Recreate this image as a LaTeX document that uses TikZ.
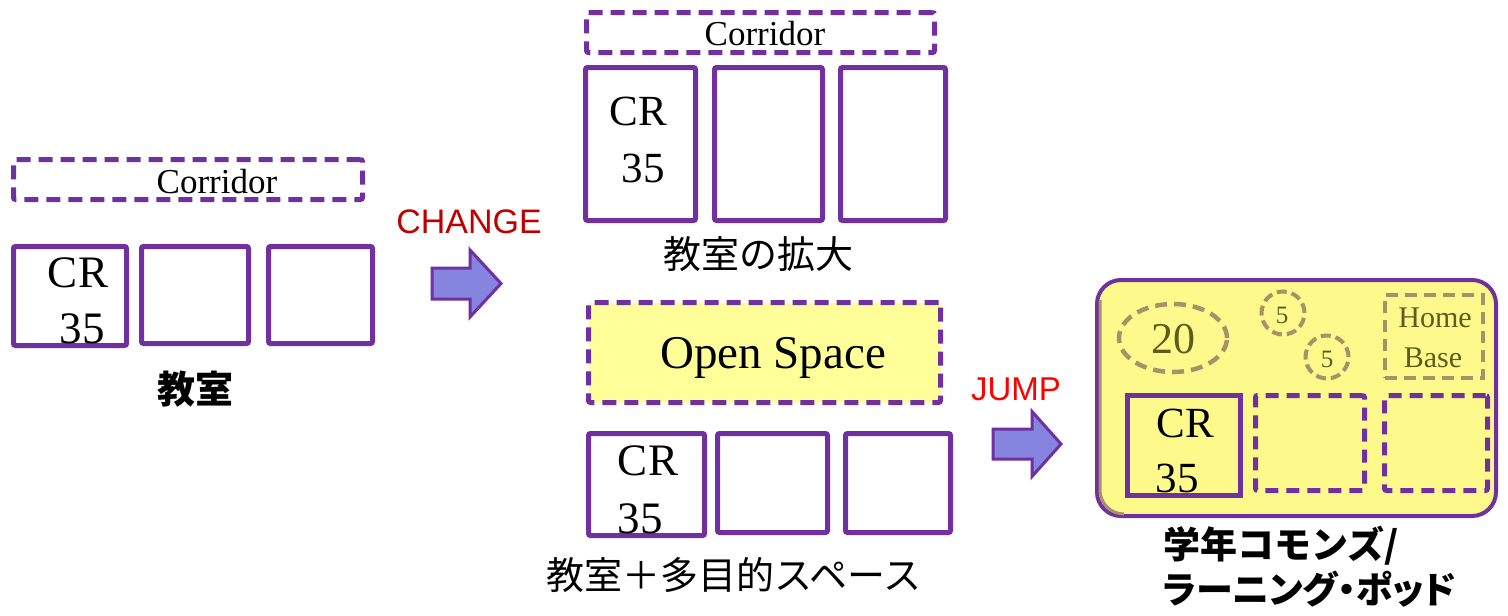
\documentclass[tikz,border=0pt]{standalone}
\usepackage{fontspec}
\usetikzlibrary{shapes.geometric}
\setmainfont{Liberation Serif}
\newfontfamily\arial{Liberation Sans}
\newfontfamily\jp{Noto Sans CJK JP}
\newfontfamily\jpp{Noto Sans CJK JP}[RawFeature=+palt]
\definecolor{purp}{HTML}{7030A0}
\definecolor{arrfill}{HTML}{8585E0}
\definecolor{dred}{HTML}{C00000}
\definecolor{bred}{HTML}{FF0000}
\definecolor{ylw}{HTML}{FFFF99}
\definecolor{ylwbig}{HTML}{FDF98A}
\definecolor{tan}{HTML}{A8916A}
\definecolor{olive}{HTML}{5C5C1E}
\tikzset{
  room/.style={draw=purp, line width=5pt, rounded corners=2pt, inner sep=0pt},
  droom/.style={room, dash pattern=on 14pt off 8pt},
  tanbox/.style={draw=tan, line width=4.5pt, dash pattern=on 12pt off 7pt, inner sep=0pt},
  lbl/.style={inner sep=0pt, anchor=base},
  bigarrow/.style={draw=purp, fill=arrfill, line width=3pt, line join=miter},
}
\newcommand{\fs}[1]{\fontsize{#1}{#1}\selectfont}
\begin{document}
\begin{tikzpicture}[x=1pt,y=-1pt]
\useasboundingbox (0,0) rectangle (1508,616);
\fill[white] (0,0) rectangle (1508,616);

% ---------- left group ----------
\node[droom, minimum width=349pt, minimum height=40pt] (corrL) at (188,179.5) {};
\node[lbl] (corrLt) at (217,193) {\fs{35}Corridor};
\node[room, minimum width=113pt, minimum height=99pt] (L1) at (70,296) {};
\node[room, minimum width=107pt, minimum height=97pt] (L2) at (195,295) {};
\node[room, minimum width=104pt, minimum height=97pt] (L3) at (320.5,295) {};
\node[lbl] (L1a) at (78,287) {\fs{45}CR};
\node[lbl] (L1b) at (82,343) {\fs{45}35};
\node[inner sep=0pt] (labL) at (195,389) {\jp\bfseries\fs{38}教室};

% CHANGE arrow
\node[lbl] (chg) at (469,233) {\arial\fs{34}\color{dred}CHANGE};
\draw[bigarrow] (432,268) -- (470,268) -- (470,250) -- (501,283.5) -- (470,317) -- (470,299) -- (432,299) -- cycle;

% ---------- middle top ----------
\node[droom, minimum width=348pt, minimum height=40pt] (corrM) at (760.5,32.5) {};
\node[lbl] (corrMt) at (765,45) {\fs{35}Corridor};
\node[room, minimum width=110pt, minimum height=153pt] (M1) at (640.5,144) {};
\node[room, minimum width=108pt, minimum height=153pt] (M2) at (768.5,144) {};
\node[room, minimum width=105pt, minimum height=153pt] (M3) at (893,144) {};
\node[lbl] (M1a) at (638,125) {\fs{43}CR};
\node[lbl] (M1b) at (643,182) {\fs{43}35};
\node[inner sep=0pt] (labM) at (758,254) {\jp\fs{38}教室の拡大};

% ---------- middle bottom ----------
\node[droom, fill=ylw, minimum width=352pt, minimum height=100pt] (open) at (764.5,352.5) {};
\node[lbl] (opent) at (773,368) {\fs{47}Open Space};
\node[room, minimum width=116pt, minimum height=102pt] (B1) at (646.5,484.5) {};
\node[room, minimum width=110pt, minimum height=99pt] (B2) at (772.5,483) {};
\node[room, minimum width=105pt, minimum height=99pt] (B3) at (898,483) {};
\node[lbl] (B1a) at (648,475) {\fs{45}CR};
\node[lbl] (B1b) at (640,533) {\fs{45}35};
\node[inner sep=0pt] (labB) at (734,575) {\jp\fs{38}教室＋多目的スペース};

% JUMP arrow
\node[lbl] (jmp) at (1016,400) {\arial\fs{33}\color{bred}JUMP};
\draw[bigarrow] (993,429) -- (1032,429) -- (1032,411.5) -- (1061,444) -- (1032,476.5) -- (1032,459) -- (993,459) -- cycle;

% ---------- right group ----------
\node[draw=purp, fill=ylwbig, line width=4pt, rounded corners=24pt, minimum width=399pt, minimum height=236pt, inner sep=0pt] (pod) at (1296.5,398) {};
\draw[tan, line width=3pt] (1100,300) -- (1100,490) arc[start angle=180, end angle=90, x radius=24, y radius=24];
\node[tanbox, ellipse, minimum width=108pt, minimum height=68pt] (e20) at (1173,338) {};
\node[lbl] (e20t) at (1173,353) {\fs{44}\color{olive}20};
\node[tanbox, circle, minimum size=43pt, line width=4pt, dash pattern=on 10pt off 5pt] (c1) at (1283,313) {};
\node[lbl] (c1t) at (1282,323) {\fs{25}\color{olive}5};
\node[tanbox, circle, minimum size=43pt, line width=4pt, dash pattern=on 10pt off 5pt] (c2) at (1327,357) {};
\node[lbl] (c2t) at (1327,367) {\fs{25}\color{olive}5};
\node[tanbox, minimum width=98pt, minimum height=83pt] (home) at (1434,336.5) {};
\node[lbl] (homet) at (1435,327) {\fs{30}\color{olive}Home};
\node[lbl] (baset) at (1433,367) {\fs{30}\color{olive}Base};
\node[room, rounded corners=0pt, minimum width=113pt, minimum height=100pt] (R1) at (1184,445.5) {};
\node[droom, dash pattern=on 13pt off 8pt, minimum width=109pt, minimum height=95pt] (R2) at (1310,443) {};
\node[droom, dash pattern=on 13pt off 8pt, minimum width=103pt, minimum height=95pt] (R3) at (1436,443) {};
\node[lbl] (R1a) at (1185,437) {\fs{43}CR};
\node[lbl] (R1b) at (1177,492) {\fs{43}35};
\node[inner sep=0pt, anchor=west] (labR1) at (1163,546) {\jp\bfseries\fs{37}学年コモンズ/};
\node[inner sep=0pt, anchor=west] (labR2) at (1163,589) {\jpp\bfseries\fs{37}ラーニング・ポッド};
\end{tikzpicture}
\end{document}
